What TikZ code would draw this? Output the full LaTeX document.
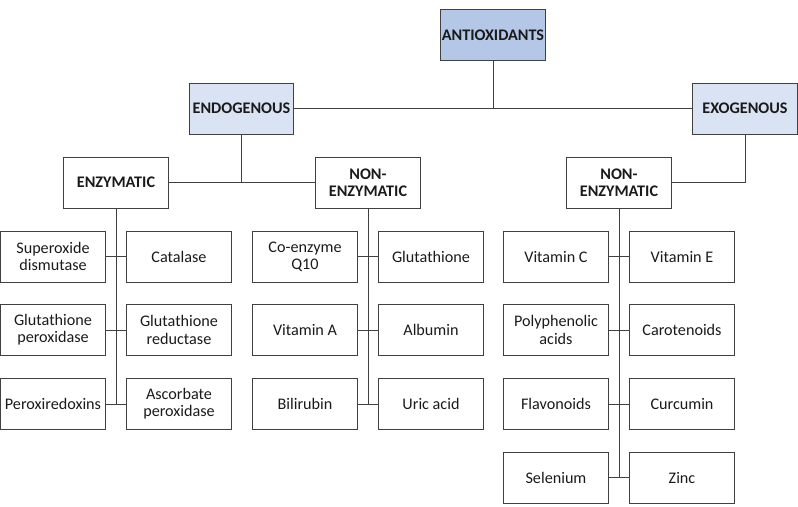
\documentclass[tikz,border=0pt]{standalone}
\usepackage{fontspec}
\setmainfont{Carlito}
\usepackage{tikz}
\usetikzlibrary{positioning}
\definecolor{topblue}{HTML}{B4C7E7}
\definecolor{paleblue}{HTML}{DAE3F3}
\definecolor{edgegray}{HTML}{404040}
\definecolor{inkgray}{HTML}{1A1A1A}

\begin{document}
\begin{tikzpicture}[x=0.025cm, y=-0.025cm,
    box/.style={draw=edgegray, line width=0.7pt, minimum width=2.6cm, minimum height=1.275cm,
        align=center, inner sep=1pt, text=inkgray, font=\fontsize{11.5}{12.3}\selectfont},
    head/.style={box, font=\fontsize{11.5}{12.3}\selectfont\bfseries},
    link/.style={draw=edgegray, line width=0.7pt}]
    \useasboundingbox (0,0) rectangle (798,507);

    % hierarchy
    \node[head, fill=topblue] (anti) at (493,35) {ANTIOXIDANTS};
    \node[head, fill=paleblue] (endo) at (241.5,108.5) {ENDOGENOUS};
    \node[head, fill=paleblue] (exo) at (745,108.5) {EXOGENOUS};
    \node[head] (enz) at (116,182.5) {ENZYMATIC};
    \node[head] (nonendo) at (368,182.5) {NON-\\ENZYMATIC};
    \node[head] (nonexo) at (619,182.5) {NON-\\ENZYMATIC};

    % enzymatic
    \node[box] (sod) at (53,256.5) {Superoxide\\dismutase};
    \node[box] (cat) at (179,256.5) {Catalase};
    \node[box] (gpx) at (53,330) {Glutathione\\peroxidase};
    \node[box] (gr) at (179,330) {Glutathione\\reductase};
    \node[box] (prx) at (53,404) {Peroxiredoxins};
    \node[box] (apx) at (179,404) {Ascorbate\\peroxidase};

    % endogenous non-enzymatic
    \node[box] (coq) at (305,256.5) {Co-enzyme\\Q10};
    \node[box] (gsh) at (431,256.5) {Glutathione};
    \node[box] (vita) at (305,330) {Vitamin A};
    \node[box] (alb) at (431,330) {Albumin};
    \node[box] (bil) at (305,404) {Bilirubin};
    \node[box] (uric) at (431,404) {Uric acid};

    % exogenous non-enzymatic
    \node[box] (vitc) at (556,256.5) {Vitamin C};
    \node[box] (vite) at (682,256.5) {Vitamin E};
    \node[box] (poly) at (556,330) {Polyphenolic\\acids};
    \node[box] (car) at (682,330) {Carotenoids};
    \node[box] (flav) at (556,404) {Flavonoids};
    \node[box] (curc) at (682,404) {Curcumin};
    \node[box] (sel) at (556,477.5) {Selenium};
    \node[box] (zinc) at (682,477.5) {Zinc};

    % connectors
    \draw[link] (anti) -- (anti |- endo);
    \draw[link] (endo) -- (exo);
    \draw[link] (endo) -- (endo |- enz);
    \draw[link] (enz) -- (nonendo);
    \draw[link] (exo) |- (nonexo);

    \draw[link] (enz) -- (enz |- prx);
    \draw[link] (sod) -- (cat);
    \draw[link] (gpx) -- (gr);
    \draw[link] (prx) -- (apx);

    \draw[link] (nonendo) -- (nonendo |- bil);
    \draw[link] (coq) -- (gsh);
    \draw[link] (vita) -- (alb);
    \draw[link] (bil) -- (uric);

    \draw[link] (nonexo) -- (nonexo |- sel);
    \draw[link] (vitc) -- (vite);
    \draw[link] (poly) -- (car);
    \draw[link] (flav) -- (curc);
    \draw[link] (sel) -- (zinc);
\end{tikzpicture}
\end{document}
